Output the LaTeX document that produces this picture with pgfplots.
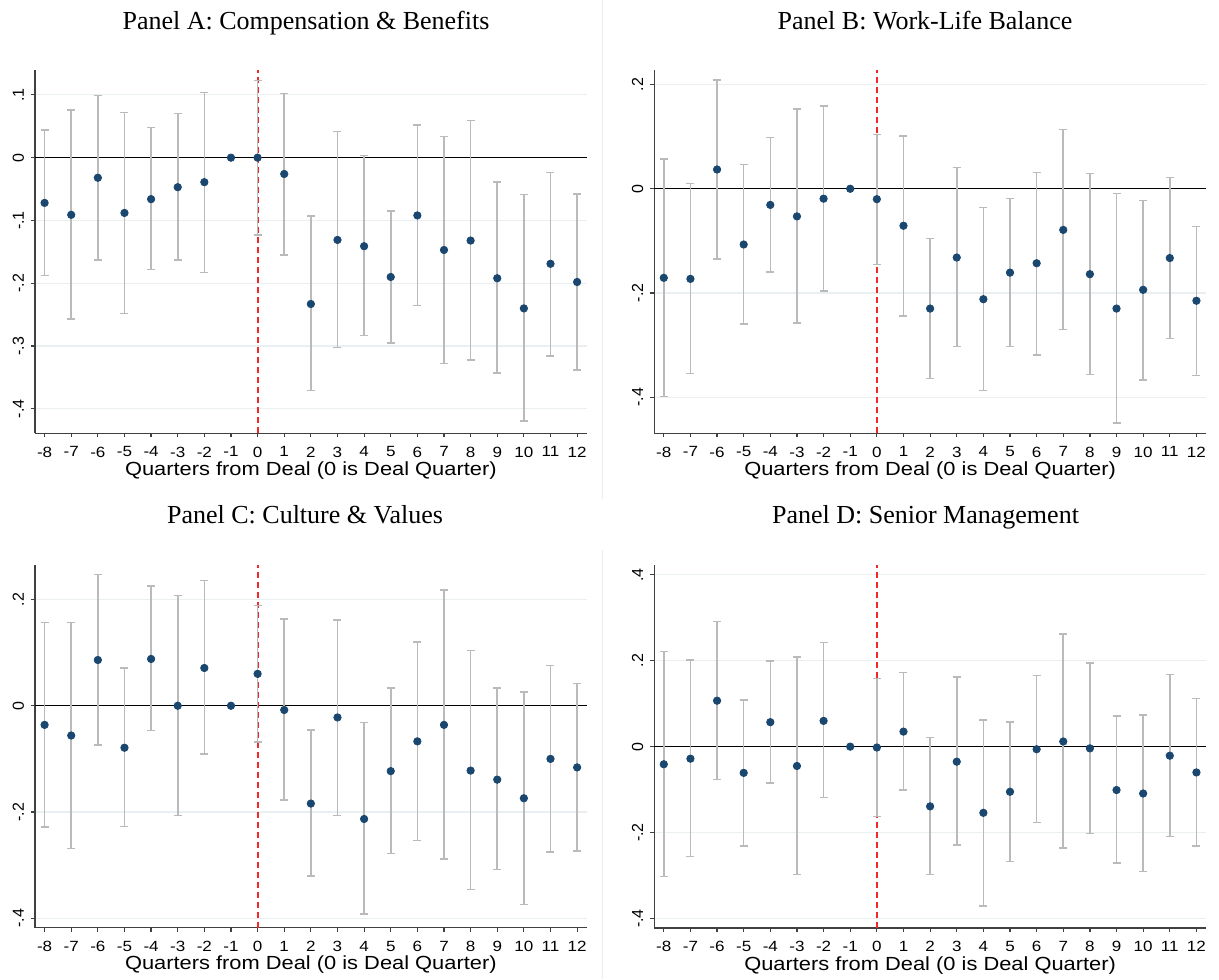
\documentclass[border=0pt]{standalone}
\usepackage{fontspec}
\setmainfont{Liberation Sans}
\newfontfamily\stfont{Liberation Sans}[FakeStretch=1.15]
\newfontfamily\ttlfont{Liberation Serif}
\usepackage{pgfplots}
\usepackage{pgfplotstable}
\pgfplotsset{compat=1.18}
\definecolor{navy}{HTML}{1A476F}
\definecolor{ebgray}{HTML}{BABABA}
\definecolor{gridc}{HTML}{EAF0F2}
\definecolor{axgray}{HTML}{404040}
\definecolor{dred}{HTML}{F02828}

\pgfplotstableread{
x y lo hi
-8 -0.072 -0.188 0.044
-7 -0.091 -0.257 0.076
-6 -0.032 -0.163 0.099
-5 -0.088 -0.248 0.072
-4 -0.066 -0.178 0.048
-3 -0.047 -0.163 0.070
-2 -0.039 -0.183 0.104
-1 0 0 0
0 0 -0.123 0.123
1 -0.026 -0.155 0.102
2 -0.233 -0.371 -0.093
3 -0.131 -0.302 0.042
4 -0.141 -0.283 0.003
5 -0.190 -0.295 -0.085
6 -0.092 -0.235 0.052
7 -0.147 -0.328 0.034
8 -0.132 -0.322 0.059
9 -0.192 -0.343 -0.039
10 -0.240 -0.419 -0.059
11 -0.169 -0.316 -0.024
12 -0.198 -0.338 -0.058
}\dataA

\pgfplotstableread{
x y lo hi
-8 -0.171 -0.399 0.057
-7 -0.173 -0.355 0.010
-6 0.037 -0.135 0.209
-5 -0.107 -0.260 0.047
-4 -0.031 -0.160 0.098
-3 -0.053 -0.258 0.153
-2 -0.019 -0.196 0.159
-1 0 0 0
0 -0.020 -0.145 0.104
1 -0.071 -0.244 0.101
2 -0.230 -0.364 -0.095
3 -0.132 -0.303 0.041
4 -0.212 -0.387 -0.036
5 -0.161 -0.303 -0.019
6 -0.143 -0.319 0.031
7 -0.079 -0.270 0.114
8 -0.164 -0.357 0.029
9 -0.230 -0.450 -0.009
10 -0.194 -0.367 -0.023
11 -0.133 -0.287 0.022
12 -0.215 -0.358 -0.072
}\dataB

\pgfplotstableread{
x y lo hi
-8 -0.036 -0.228 0.157
-7 -0.056 -0.268 0.157
-6 0.086 -0.074 0.247
-5 -0.079 -0.227 0.071
-4 0.088 -0.047 0.225
-3 0 -0.207 0.207
-2 0.071 -0.091 0.236
-1 0 0 0
0 0.060 -0.068 0.189
1 -0.008 -0.177 0.163
2 -0.184 -0.320 -0.046
3 -0.022 -0.206 0.161
4 -0.213 -0.392 -0.032
5 -0.123 -0.278 0.033
6 -0.067 -0.253 0.120
7 -0.036 -0.288 0.218
8 -0.122 -0.346 0.104
9 -0.139 -0.308 0.033
10 -0.174 -0.374 0.026
11 -0.100 -0.275 0.076
12 -0.116 -0.273 0.042
}\dataC

\pgfplotstableread{
x y lo hi
-8 -0.041 -0.302 0.222
-7 -0.028 -0.256 0.202
-6 0.107 -0.077 0.292
-5 -0.061 -0.231 0.109
-4 0.057 -0.085 0.199
-3 -0.045 -0.298 0.209
-2 0.060 -0.119 0.242
-1 0 0 0
0 -0.002 -0.163 0.159
1 0.035 -0.101 0.172
2 -0.139 -0.297 0.021
3 -0.035 -0.229 0.162
4 -0.154 -0.371 0.062
5 -0.105 -0.267 0.057
6 -0.006 -0.176 0.165
7 0.012 -0.236 0.262
8 -0.004 -0.202 0.195
9 -0.101 -0.271 0.071
10 -0.109 -0.291 0.074
11 -0.021 -0.209 0.168
12 -0.060 -0.231 0.112
}\dataD

\pgfplotsset{
  panel/.style={
    scale only axis,
    anchor=north west,
    axis x line*=bottom, axis y line*=left,
    xmin=-8.36, xmax=12.36,
    xtick={-8,-7,-6,-5,-4,-3,-2,-1,0,1,2,3,4,5,6,7,8,9,10,11,12},
    xticklabels={-8,-7,-6,-5,-4,-3,-2,-1,0,1,2,3,4,5,6,7,8,9,10,11,12},
    tick align=outside,
    major tick length=2pt,
    axis line style={color=axgray, line width=0.6pt},
    tick style={color=axgray, line width=0.6pt},
    xticklabel style={font=\stfont\fontsize{7.4}{8}\selectfont, anchor=north, inner sep=0pt, yshift=-4.5pt},
    yticklabel style={font=\fontsize{8}{9}\selectfont, rotate=90, anchor=south, inner sep=0pt, outer ysep=3.5pt},
    ymajorgrids, grid style={color=gridc, line width=0.6pt},
    xlabel={Quarters from Deal (0 is Deal Quarter)},
    xlabel style={font=\stfont\fontsize{9.5}{11}\selectfont, at={(axis description cs:0.5,0)}, anchor=north, inner sep=0pt, yshift=-14pt},
    clip=false,
  },
  ebars/.style={draw=none, mark=none, forget plot,
    skip coords between index={7}{8},
    error bars/.cd, y dir=both, y explicit,
    error bar style={color=ebgray, line width=0.8pt},
    error mark options={color=ebgray, line width=0.7pt, mark size=2pt, rotate=90}},
  pts/.style={only marks, mark=*, mark size=1.85pt, color=navy, mark options={fill=navy, draw=navy}},
}

\newcommand{\panelplots}[3]{%
  \addplot[black, line width=0.7pt, forget plot] coordinates {(-8.36,0) (12.36,0)};
  \addplot[dred, line width=0.9pt, dash pattern=on 3pt off 2pt, forget plot] coordinates {(0,#2) (0,#3)};
  \addplot[ebars] table[x=x, y=y, y error plus expr=\thisrow{hi}-\thisrow{y}, y error minus expr=\thisrow{y}-\thisrow{lo}] {#1};
  \addplot[pts] table[x=x, y=y] {#1};
}

\begin{document}
\begin{tikzpicture}
\path[use as bounding box] (0pt,0pt) rectangle (609.5pt,-489.5pt);
\draw[color=black!7, line width=0.5pt] (301pt,0pt) -- (301pt,-249.5pt);
\draw[color=black!7, line width=0.5pt] (301pt,-275pt) -- (301pt,-489.5pt);

\node[anchor=base, font=\ttlfont\fontsize{13}{15}\selectfont] at (153pt,-14.65pt) {Panel A: Compensation \& Benefits};
\node[anchor=base, font=\ttlfont\fontsize{13}{15}\selectfont] at (462.5pt,-14.65pt) {Panel B: Work-Life Balance};
\node[anchor=base, font=\ttlfont\fontsize{13}{15}\selectfont] at (152.5pt,-261.65pt) {Panel C: Culture \& Values};
\node[anchor=base, font=\ttlfont\fontsize{13}{15}\selectfont] at (462.75pt,-261.65pt) {Panel D: Senior Management};

\begin{axis}[panel, at={(17.5pt,-35pt)}, width=275.85pt, height=181.65pt,
  ymin=-0.4389, ymax=0.1396,
  ytick={-0.4,-0.3,-0.2,-0.1,0,0.1}, yticklabels={-.4,-.3,-.2,-.1,0,.1}]
\panelplots{\dataA}{-0.4389}{0.1396}
\end{axis}

\begin{axis}[panel, at={(327.1pt,-35pt)}, width=275.9pt, height=181.65pt,
  ymin=-0.4695, ymax=0.228,
  ytick={-0.4,-0.2,0,0.2}, yticklabels={-.4,-.2,0,.2}]
\panelplots{\dataB}{-0.4695}{0.228}
\end{axis}

\begin{axis}[panel, at={(17.5pt,-282.5pt)}, width=275.85pt, height=181.35pt,
  ymin=-0.4175, ymax=0.2647,
  ytick={-0.4,-0.2,0,0.2}, yticklabels={-.4,-.2,0,.2}]
\panelplots{\dataC}{-0.4175}{0.2647}
\end{axis}

\begin{axis}[panel, at={(327.1pt,-282.5pt)}, width=275.9pt, height=181.5pt,
  ymin=-0.4221, ymax=0.4228,
  ytick={-0.4,-0.2,0,0.2,0.4}, yticklabels={-.4,-.2,0,.2,.4}]
\panelplots{\dataD}{-0.4221}{0.4228}
\end{axis}
\end{tikzpicture}
\end{document}
